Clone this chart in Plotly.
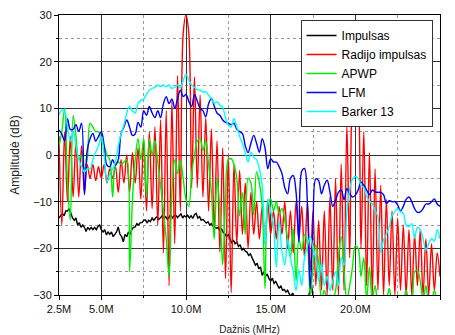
import numpy as np
import plotly.graph_objects as go

# frequency grid step (MHz) for oscillating spectra, and for Impulsas
STEP_OSC = 1.0 / 6.0
STEP_IMP = 0.1
F_START = 2.5

impulsas = [
    -13.5, -13, -12.5, -13, -12, -12, -11.5, -12.5, -13.5, -14,      # 2.5-3.4
    -13.5, -15, -14.5, -15.5, -15, -15.5, -16.4, -15.5, -16, -15.5,  # 3.5-4.4
    -16, -15.5, -16, -15.3, -15, -16, -16.5, -16, -17.1, -16.5,      # 4.5-5.4
    -17, -16.5, -17.5, -17, -16.5, -15.4, -17, -17.5, -18.6, -17,    # 5.5-6.4
    -17.5, -16.5, -17, -16, -15.5, -15.4, -14.7, -15, -14.5, -14.5,  # 6.5-7.4
    -14, -13.9, -14.5, -14, -14.3, -13.5, -14, -13.5, -13.2, -13.8,  # 7.5-8.4
    -13.5, -13, -13.6, -13.2, -13.8, -13.2, -12.8, -13.5, -13, -12.9,  # 8.5-9.4
    -13.4, -13, -12.6, -13.5, -13, -13.3, -12.9, -13.5, -13, -13.6,  # 9.5-10.4
    -12.8, -12.5, -13.5, -13.2, -14, -13.8, -14.2, -14.6, -14.3, -15,  # 10.5-11.4
    -14.7, -15.3, -15.5, -15.7, -15.5, -16.2, -15.8, -16.6, -16.9, -17.5,  # 11.5-12.4
    -17, -18, -18.9, -18.2, -19, -18.6, -19.6, -19.2, -20.4, -20,    # 12.5-13.4
    -20.6, -20.8, -21.5, -21.2, -22.2, -22.8, -23.6, -23.2, -24.4, -24,  # 13.5-14.4
    -25.8, -25, -26, -25.5, -26.5, -27, -26.4, -27.5, -27.1, -28,    # 14.5-15.4
    -28.6, -28, -29, -28.8, -29.4, -29, -29.8, -30.2, -29.6, -30.5,  # 15.5-16.4
    -30.2, -31, -30.5, -31, -31.5, -31, -31.5, -31, -29.5, -27.5,    # 16.5-17.4
    -30.5, -32, -32, -32, -32, -32,                                  # 17.5-18.0
]

radijo_impulsas = [
    4, -15, 5, -10, 4, -9, 3, -9, 2, -8,
    -2, -5, -2, -5.5, -2.5, -5, -2, -6, -3, -5,
    -2.5, -8, -1, -6, 0, -8, 0.5, -6, 1.5, -9.5,
    3.5, -12, 5, -11.5, 6, -15, 7.5, -21, 9.5, -28,
    11.5, -19, 17, -12, 26, 30, 26, -7, 16.7, -7,
    12.8, -9, 8, -12, 5.6, -16.5, 3, -20.8, 1.5, -26.5,
    0, -29.5, -2, -19, -3.3, -17, -6, -20, -8, -17,
    -10, -18, -11, -19, -10, -17, -12, -18, -11, -17,
    -10, -20, -12, -21, -10, -18, -11, -22, -10, -25,
    -12, -28, -14, -29, -12, -30, -9, -29, -5, -30,
    -2, -29, 6.4, -22, 14, 18, 14, -20, 5, -28,
    0.5, -30, -3, -29, -6.5, -30, -9.5, -28, -12, -30,
    -13.5, -29, -15, -30, -16, -30, -17, -28, -16, -30,
    -18, -30, -19, -29, -21, -26,
]

apwp = [
    2, 5, 10, -6, -14, 8.5, 4, -1, 0, -3,
    -1, 6.8, 6, 5, 5, 3, 2, 0, -1, -9,
    -2, -1.5, -2, -1.5, -1, -25, -10, -1, 3.5, -1,
    3.5, -9, 3.5, 0, 3, -1.5, -6.5, -12, -18, -26,
    -8, -1, -4, -1, -5, -9.5, -11, -4, 0, 3,
    3.5, 1, 3, -2, -8, -18, -5, -12, -23.5, -10,
    -1, -0.8, -2, -5, -13, -8, -17, -5, -6, -12.9,
    -3.6, -6, -11, -28.6, -10.8, -9.4, -12, -10, -12.5, -11.5,
    -14, -18, -22, -15.8, -27, -18, -20.4, -17, -19, -30,
    -24, -19.3, -23, -31, -29, -31, -30, -31, -29, -22,
    -17.5, -25, -31, -28, -24, -19.5, -20, -26, -22, -31,
    -24, -31, -28, -31, -31, -30, -31, -28.6, -31, -31,
    -30, -31, -31, -29, -31, -31, -25, -24.7, -27, -31,
    -28, -31, -31, -29, -31, -30,
]

lfm = [
    5.4, 4.5, 3, 7.8, 5.5, 5.5, 6.5, 5, 6.8, -8.5,
    1, 3.5, 4.6, 3, 4, 5, 2, -2.2, -2.5, -1,
    -2.2, -1, 4.6, 6, 7.5, 6, 4.2, 4.5, 7, 6,
    9.5, 8.5, 10.4, 9, 8, 9.5, 8, 11, 12.5, 11,
    12, 10, 12, 13.9, 12.5, 13, 11.5, 10.4, 13, 11.5,
    10, 9.5, 8.2, 11, 12.1, 10.5, 9, 8.5, 7.5, 7,
    6.8, 6.5, 6.8, 5.5, 5, 4.6, 2, 0.5, 2.5, 4.2,
    2.5, 0.6, 3.5, 1.5, -2.9, -0.8, -1.5, -1.5, -2.5, -4,
    -7, -8.3, -5, -4.4, -8, -18.6, -3.5, -2.9, -10, -28.6,
    -15, -5.1, -5.5, -8.3, -6.5, -5.4, -7.9, -11, -9.7, -8,
    -7.5, -9.6, -7.2, -8.3, -9, -8.6, -7.5, -5.8, -6.5, -7.5,
    -8.5, -7.5, -7.9, -8, -8, -8.5, -10.4, -9.8, -10, -10,
    -10.7, -12, -11, -9.5, -9, -10, -11.5, -12.3, -12.2, -11.5,
    -10.5, -10.5, -10, -9.4, -10.5, -11,
]

barker13 = [
    8.6, 9.6, 9.4, 6, 3, 5, 2, -1, -2.5, -3.6,
    -3, -3, -1, 0.6, 2, 3.9, 0, -5.8, -4, -3,
    -1.5, 2, 4.5, 6.4, 9, 10.4, 9.5, 9, 11, 11.7,
    12, 13, 13.9, 14.3, 14.5, 15, 14.6, 15, 14.6, 15,
    14.3, 14.5, 15, 14.4, 16, 17.3, 16, 15, 14.5, 14,
    13.9, 13.5, 13.6, 12.8, 12, 11.1, 11.4, 10.7, 10.2, 8,
    6.4, 6, 7.8, 6, 4, 2.5, 0.4, -1.5, 0.6, -0.5,
    -1, -3, -6.5, -19.3, -9.4, -12, -15, -24, -14, -20.8,
    -23.6, -18, -22, -25, -29, -24.6, -28, -22, -19.6, -17.5,
    -20, -22.2, -27, -23, -28, -26, -29, -27, -25, -28,
    -22, -23.6, -12.2, -7.5, -5.1, -4.6, -5, -6.5, -7, -8.9,
    -9.9, -10.5, -12, -13.2, -20.8, -18.2, -17, -15.4, -13, -12.2,
    -11.5, -12.2, -12.5, -15, -15.4, -14.7, -17.8, -15.5, -16, -18,
    -20.4, -19, -17.9, -18.5, -16, -18,
]

x_tickvals = [2.5, 5, 10, 15, 20, 25]
x_ticktext = ["2.5M", "5.0M", "10.0M", "15.0M", "20.0M", "25.0M"]
x_minor = [7.5, 12.5, 17.5, 22.5]

names = ["Impulsas", "Radijo impulsas", "APWP", "LFM", "Barker 13"]
colors = ["#000000", "#ff0000", "#00ee00", "#0000ff", "#00ffff"]


def freqs(vals, step):
    return np.round(F_START + np.arange(len(vals)) * step, 4)


fig = go.Figure()
series = [(impulsas, STEP_IMP, "linear"),
          (radijo_impulsas, STEP_OSC, "spline"),
          (apwp, STEP_OSC, "spline"),
          (lfm, STEP_OSC, "spline"),
          (barker13, STEP_OSC, "spline")]
for (vals, step, shape), name, col in zip(series, names, colors):
    fig.add_trace(go.Scatter(
        x=freqs(vals, step), y=vals, mode="lines", name=name,
        line=dict(color=col, width=1.4, shape=shape),
    ))

# page body has an 8px margin, so the figure is sized to fit the 455x335 window
fig.update_layout(
    width=447, height=327,
    margin=dict(l=51, r=15, t=7, b=40),
    paper_bgcolor="white", plot_bgcolor="white",
    font=dict(family="Liberation Sans, Arial, sans-serif", size=11, color="#111"),
    showlegend=True,
    legend=dict(
        x=0.634, y=0.982, xanchor="left", yanchor="top",
        bgcolor="white", bordercolor="#333", borderwidth=1,
        font=dict(size=12, color="#000"),
        tracegroupgap=0,
    ),
)
fig.update_xaxes(
    automargin=False,
    range=[2.5, 25], tickmode="array", tickvals=x_tickvals, ticktext=x_ticktext,
    showgrid=True, gridcolor="#333", gridwidth=1,
    ticks="outside", ticklen=4, tickcolor="#000",
    showline=True, linecolor="#000", linewidth=1, mirror=True, zeroline=False,
    minor=dict(tickmode="array", tickvals=x_minor, showgrid=True,
               gridcolor="#999", griddash="dot", gridwidth=1,
               ticks="outside", ticklen=2, tickcolor="#000"),
    title=dict(text="Dažnis (MHz)", font=dict(size=10, color="#222"), standoff=12),
)
fig.update_yaxes(
    automargin=False,
    range=[-30, 30], tickmode="linear", tick0=0, dtick=10,
    showgrid=True, gridcolor="#333", gridwidth=1,
    ticks="outside", ticklen=4, tickcolor="#000",
    showline=True, linecolor="#000", linewidth=1, mirror=True, zeroline=False,
    minor=dict(tickmode="linear", tick0=0, dtick=5, showgrid=True,
               gridcolor="#999", griddash="dot", gridwidth=1,
               ticks="outside", ticklen=2, tickcolor="#000"),
    title=dict(text="Amplitudė (dB)", font=dict(size=12, color="#222"), standoff=14),
)

fig.write_html("out.html")
